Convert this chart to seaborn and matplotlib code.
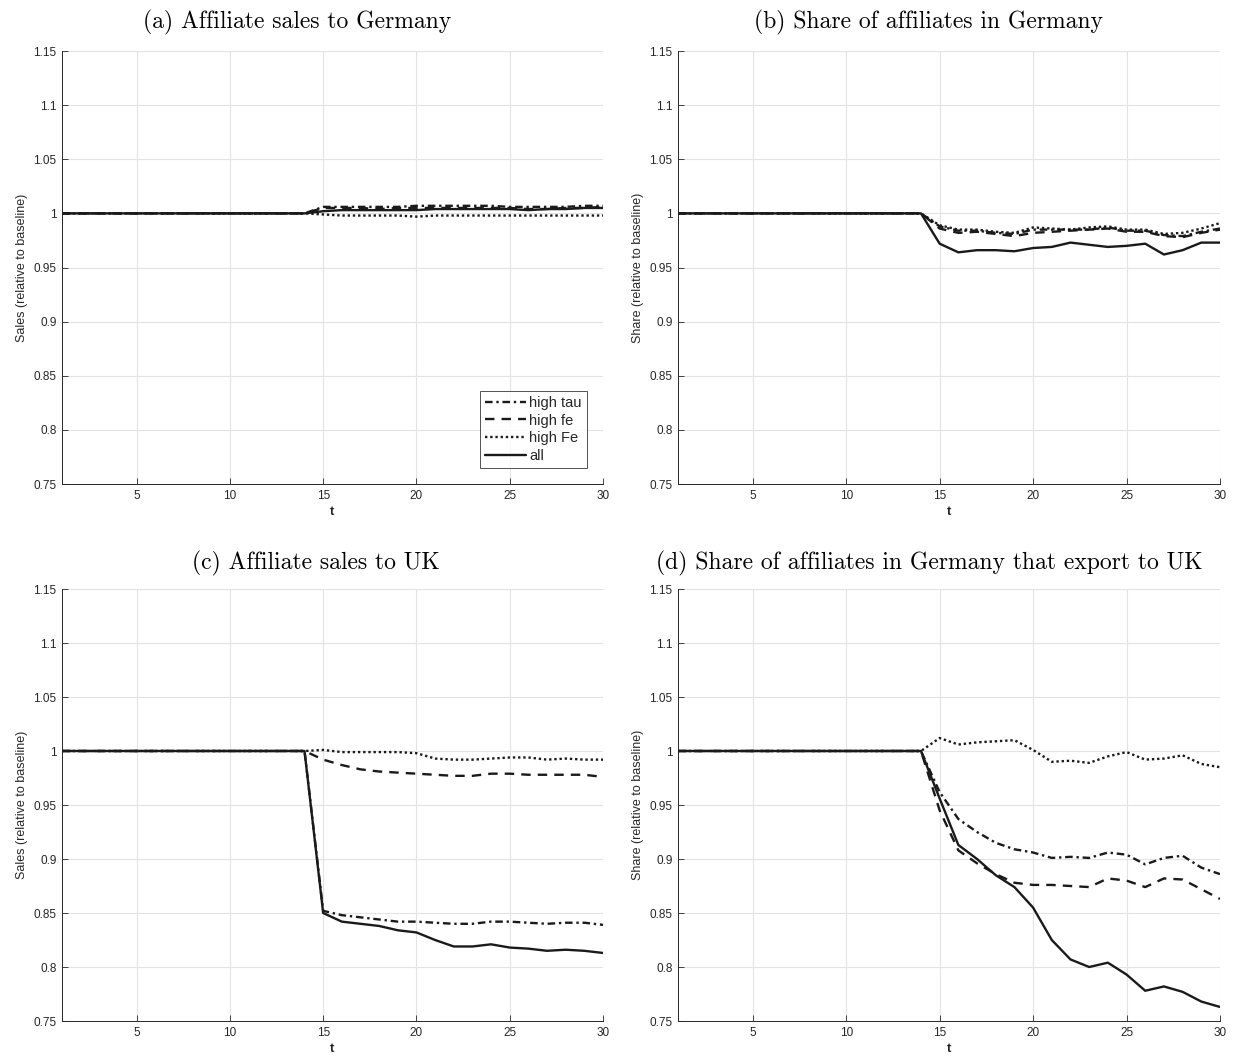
import numpy as np
import pandas as pd
import matplotlib
matplotlib.use("Agg")
import matplotlib.pyplot as plt
import seaborn as sns

# ---------------- data ----------------
t = list(range(1, 31))
pre = [1.0] * 14

a_tau = pre + [1.006, 1.006, 1.006, 1.006, 1.006, 1.007, 1.007, 1.007, 1.007, 1.007, 1.006, 1.006, 1.006, 1.006, 1.007, 1.007]
a_fe = pre + [1.005, 1.005, 1.005, 1.004, 1.005, 1.005, 1.005, 1.005, 1.005, 1.005, 1.005, 1.004, 1.004, 1.005, 1.005, 1.006]
a_Fe = pre + [0.999, 0.998, 0.998, 0.998, 0.998, 0.997, 0.998, 0.998, 0.998, 0.998, 0.998, 0.998, 0.998, 0.998, 0.998, 0.998]
a_all = pre + [1.002, 1.003, 1.003, 1.003, 1.003, 1.003, 1.004, 1.004, 1.004, 1.004, 1.004, 1.003, 1.004, 1.004, 1.005, 1.005]

b_tau = pre + [0.988, 0.984, 0.984, 0.982, 0.981, 0.985, 0.985, 0.985, 0.985, 0.987, 0.984, 0.984, 0.980, 0.979, 0.983, 0.986]
b_fe = pre + [0.986, 0.982, 0.983, 0.981, 0.979, 0.982, 0.983, 0.984, 0.985, 0.986, 0.983, 0.983, 0.979, 0.978, 0.982, 0.985]
b_Fe = pre + [0.989, 0.985, 0.985, 0.983, 0.982, 0.987, 0.986, 0.985, 0.987, 0.988, 0.985, 0.985, 0.981, 0.982, 0.986, 0.991]
b_all = pre + [0.972, 0.964, 0.966, 0.966, 0.965, 0.968, 0.969, 0.973, 0.971, 0.969, 0.970, 0.972, 0.962, 0.966, 0.973, 0.973]

c_tau = pre + [0.852, 0.848, 0.846, 0.844, 0.842, 0.842, 0.841, 0.840, 0.840, 0.842, 0.842, 0.841, 0.840, 0.841, 0.841, 0.839]
c_fe = pre + [0.992, 0.987, 0.983, 0.981, 0.980, 0.979, 0.978, 0.977, 0.977, 0.979, 0.979, 0.978, 0.978, 0.978, 0.978, 0.976]
c_Fe = pre + [1.001, 0.999, 0.999, 0.999, 0.999, 0.998, 0.993, 0.992, 0.992, 0.993, 0.994, 0.994, 0.992, 0.993, 0.992, 0.992]
c_all = pre + [0.850, 0.842, 0.840, 0.838, 0.834, 0.832, 0.825, 0.819, 0.819, 0.821, 0.818, 0.817, 0.815, 0.816, 0.815, 0.813]

d_tau = pre + [0.962, 0.937, 0.925, 0.915, 0.909, 0.906, 0.901, 0.902, 0.901, 0.906, 0.904, 0.895, 0.901, 0.903, 0.892, 0.886]
d_fe = pre + [0.945, 0.908, 0.896, 0.886, 0.878, 0.876, 0.876, 0.875, 0.874, 0.882, 0.880, 0.874, 0.882, 0.881, 0.872, 0.863]
d_Fe = pre + [1.012, 1.006, 1.008, 1.009, 1.010, 1.001, 0.990, 0.991, 0.989, 0.995, 0.999, 0.992, 0.993, 0.996, 0.988, 0.985]
d_all = pre + [0.956, 0.913, 0.900, 0.885, 0.874, 0.855, 0.825, 0.807, 0.800, 0.804, 0.793, 0.778, 0.782, 0.777, 0.768, 0.763]

series_names = ["high tau", "high fe", "high Fe", "all"]
titles = ["(a) Affiliate sales to Germany",
          "(b) Share of affiliates in Germany",
          "(c) Affiliate sales to UK",
          "(d) Share of affiliates in Germany that export to UK"]
ylabels = ["Sales (relative to baseline)", "Share (relative to baseline)",
           "Sales (relative to baseline)", "Share (relative to baseline)"]
xticks = [5, 10, 15, 20, 25, 30]
xtick_labels = ["5", "10", "15", "20", "25", "30"]
yticks = [0.75, 0.8, 0.85, 0.9, 0.95, 1.0, 1.05, 1.1, 1.15]
ytick_labels = ["0.75", "0.8", "0.85", "0.9", "0.95", "1", "1.05", "1.1", "1.15"]

panels = [
    [a_tau, a_fe, a_Fe, a_all],
    [b_tau, b_fe, b_Fe, b_all],
    [c_tau, c_fe, c_Fe, c_all],
    [d_tau, d_fe, d_Fe, d_all],
]

# ---------------- styling ----------------
sns.set_theme(style="white")
plt.rcParams["font.family"] = ["Liberation Sans", "DejaVu Sans"]

axcol = "#262626"
linecol = "#1a1a1a"
styles = {
    "high tau": (0, (3.2, 1.6, 1.0, 1.6)),
    "high fe": (0, (4.0, 3.0)),
    "high Fe": (0, (1.0, 1.2)),
    "all": "-",
}

fig = plt.figure(figsize=(12.33, 10.61), dpi=100)
W, H = 1233, 1061
boxes = [(62, 51, 603, 484), (678, 51, 1220, 484),
         (62, 589, 603, 1021), (678, 589, 1220, 1021)]
title_x = [297, 929, 316, 929]
title_y = [22, 22, 563, 563]

for i, (box, vals) in enumerate(zip(boxes, panels)):
    x0, y0, x1, y1 = box
    ax = fig.add_axes([x0 / W, 1 - y1 / H, (x1 - x0) / W, (y1 - y0) / H])
    for name, v in zip(series_names, vals):
        df = pd.DataFrame({"t": t, "value": v})
        sns.lineplot(data=df, x="t", y="value", ax=ax, color=linecol,
                     linestyle=styles[name], linewidth=1.7, label=name,
                     legend=False)
    ax.set_xlim(1, 30)
    ax.set_ylim(0.75, 1.15)
    ax.set_xticks(xticks)
    ax.set_xticklabels(xtick_labels)
    ax.set_yticks(yticks)
    ax.set_yticklabels(ytick_labels)
    ax.grid(True, color="#e3e3e3", linewidth=0.8)
    ax.set_axisbelow(True)
    for s in ["top", "right"]:
        ax.spines[s].set_visible(False)
    for s in ["left", "bottom"]:
        ax.spines[s].set_color(axcol)
        ax.spines[s].set_linewidth(0.7)
    ax.tick_params(direction="in", length=4, width=0.6, colors=axcol,
                   labelsize=8.5, pad=4, left=True, bottom=True)
    ax.set_xlabel("t", fontsize=9.5, fontweight="bold", color=axcol, labelpad=3)
    ax.set_ylabel(ylabels[i], fontsize=9, color=axcol, labelpad=4)
    fig.text(title_x[i] / W, 1 - title_y[i] / H, titles[i],
             family="cmr10", fontsize=17, ha="center", va="center",
             color="black")
    if i == 0:
        leg = ax.legend(loc="lower right", fontsize=10.5, frameon=True,
                        fancybox=False, handlelength=2.8, handletextpad=0.25,
                        borderpad=0.35, labelspacing=0.25, borderaxespad=1.1)
        leg.get_frame().set_edgecolor(axcol)
        leg.get_frame().set_linewidth(0.7)

fig.savefig("out.png", dpi=100)
